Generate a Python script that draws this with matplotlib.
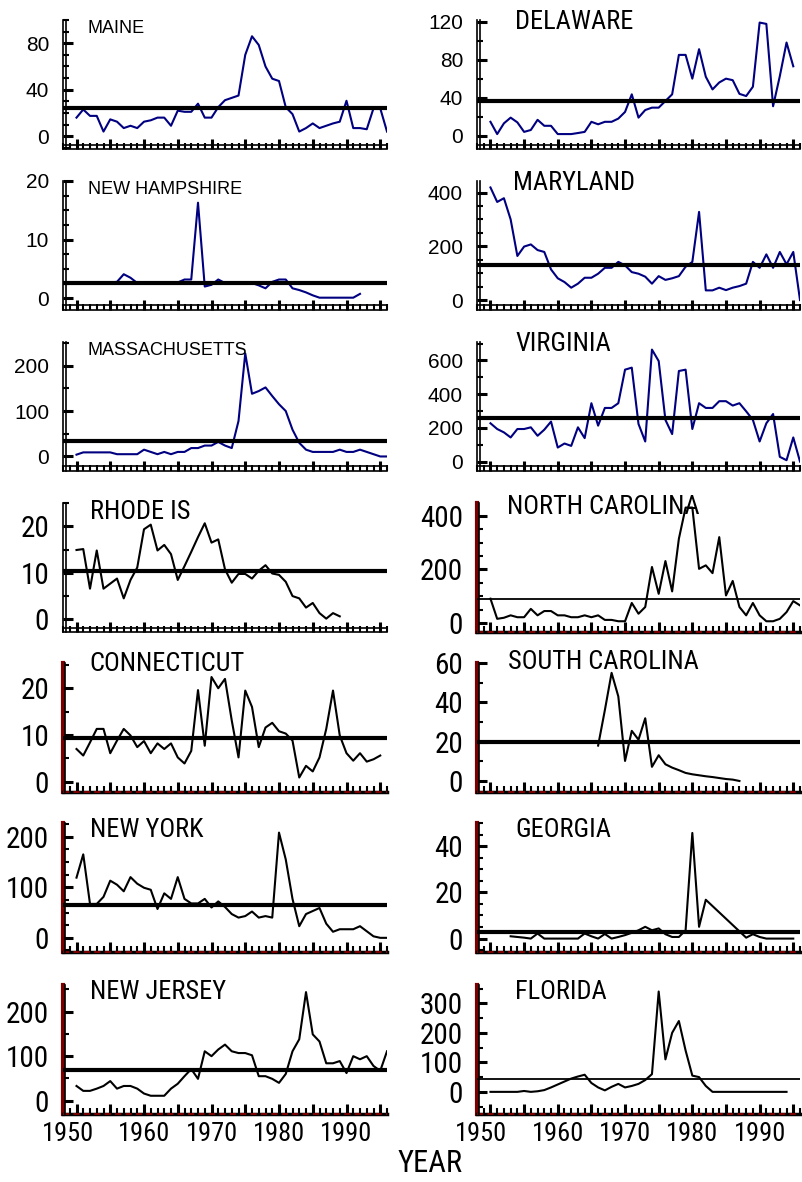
import matplotlib.pyplot as plt
from matplotlib import font_manager
from matplotlib.ticker import MultipleLocator, FuncFormatter
from matplotlib.transforms import offset_copy, ScaledTranslation

# ---- data ----
maine_years = list(range(1950, 1997))
maine = [16, 23, 17.5, 17.5, 4, 14.5, 12.5, 7, 9, 7, 12.5, 13.7, 16, 16, 9, 22, 21, 21, 28, 16,
         16, 25, 31, 33, 35, 70, 86, 78.5, 60, 49.5, 47.5, 25, 19, 4, 7, 11, 7, 9, 11, 12.5,
         30.5, 7, 7, 6, 24, 24, 4]

nh_years = list(range(1950, 1993))
nh = [2.7, 2.7, 2.7, 2.6, 2.7, 2.7, 2.8, 4.1, 3.5, 2.6, 2.6, 2.7, 2.6, 2.6, 2.6,
      2.7, 3.2, 3.2, 16.3, 2.0, 2.3, 3.2, 2.6, 2.6, 2.7, 2.6, 2.6,
      2.2, 1.7, 2.8, 3.2, 3.2, 1.7, 1.4, 1.0, 0.5, 0.1, 0.1, 0.1, 0.1, 0.1, 0.1, 0.75]

mass_years = list(range(1950, 1997))
mass = [4, 9, 9, 9, 9, 9, 5, 5, 5, 5, 15, 10, 5, 10, 5, 10, 10, 18.5, 18.5, 24,
        24, 32, 24, 18.5, 78, 227, 138, 144, 152, 133, 115, 100, 59, 30, 15,
        10, 10, 10, 10, 15, 10, 10, 15, 10, 5, 0, 0]

ri_years = list(range(1950, 1990))
ri = [14.9, 15.1, 6.5, 14.8, 6.5, 7.6, 8.7, 4.4, 8.4, 11.1,
      19.4, 20.4, 14.8, 16, 14, 8.4, 11.4, 14.5, 17.7, 20.7,
      16.5, 17.2, 10.7, 7.8, 9.7, 9.7, 8.7, 10.4, 11.6, 9.8,
      9.5, 8, 4.9, 4.4, 2.4, 3.4, 1.2, 0, 1.2, 0.5]

ct_years = list(range(1950, 1996))
ct = [7, 5.6, 8.4, 11.3, 11.3, 6.1, 8.8, 11.3, 9.9, 7.4,
      8.7, 6.1, 8.2, 7, 8.2, 5.2, 3.9, 6.6, 19.6, 7.7,
      22.4, 20, 22, 13.1, 5.2, 19.5, 16, 7.4, 11.6, 12.6,
      10.8, 10.3, 8.8, 0.9, 3.4, 2.2, 5.2, 11.3, 19.5, 9.9,
      6.1, 4.5, 6.1, 4.3, 4.8, 5.6]

ny_years = list(range(1950, 1997))
ny = [119, 165, 67, 67, 81, 113, 105, 92, 120, 107,
      99, 95, 57, 88, 77, 120, 77, 68, 68, 77,
      60, 72, 61, 47, 40, 43, 52, 40, 43, 40,
      208, 155, 77, 23, 47, 53, 59, 28, 12, 17,
      17, 17, 23, 13, 3, 0, 0]

nj_years = list(range(1950, 1997))
nj = [33, 22, 22, 27, 33, 44, 27, 33, 33, 27,
      16, 11, 11, 11, 27, 38, 55, 71, 49, 111,
      100, 115, 126, 111, 107, 107, 102, 55, 55, 49,
      40, 60, 111, 138, 244, 149, 133, 84, 84, 89,
      62, 100, 93, 100, 78, 67, 111]

de_years = list(range(1950, 1996))
de = [14.6, 1.7, 13, 19, 14, 4, 6, 16.7, 10.4, 10.4,
      1.7, 1.7, 1.7, 2.8, 4, 14.6, 12, 14.6, 14.6, 18,
      25, 43.5, 19, 27, 29.5, 29.5, 36.5, 43.5, 85, 85,
      60, 91, 62, 48.7, 56, 60, 58.4, 44, 41.7, 51.5,
      119, 117.6, 31, 62.6, 98, 73]

md_years = list(range(1950, 1997))
md = [419, 365, 379, 300, 164, 199, 207, 186, 179, 114,
      81, 67, 46, 61, 83, 83, 98, 120, 120, 142,
      129, 104, 98, 87, 61, 89, 75, 81, 89, 124,
      142, 328, 36, 36, 46, 37, 46, 52, 61, 142,
      120, 170, 120, 179, 133, 179, 0]

va_years = list(range(1950, 1997))
va = [227, 193, 173, 143, 193, 193, 203, 153, 189, 237,
      83, 107, 93, 203, 139, 346, 213, 318, 318, 346,
      545, 557, 223, 119, 664, 596, 247, 163, 537, 545,
      193, 346, 318, 318, 358, 358, 332, 346, 298, 247,
      119, 227, 282, 28, 8, 143, 0]

nc_years = list(range(1950, 1997))
nc = [91, 16, 20, 29, 22, 22, 53, 29, 45, 45,
      29, 29, 22, 22, 29, 22, 29, 12, 12, 7,
      7, 75, 35, 60, 209, 109, 231, 118, 314, 430,
      430, 202, 215, 186, 320, 103, 157, 60, 29, 75,
      29, 7, 7, 16, 41, 82, 66]

sc_years = list(range(1966, 1988))
sc = [18, 36, 55, 43, 10.2, 25.5, 21, 31.9, 7.2, 13.1, 8.5,
      6.8, 5.5, 4.1, 3.4, 2.9, 2.4, 2.0, 1.5, 1.0, 0.7, 0]

ga_years = list(range(1953, 1983)) + list(range(1988, 1996))
ga = [1, 0.7, 0.4, 0, 2.2, 0, 0, 0, 0, 0, 0, 2.2, 1.0, 0, 2, 0, 0.7, 1.5, 2.5, 3.6,
      5.1, 3.6, 4.4, 1.9, 0.7, 0.7, 3.6, 45.7, 5.1, 16.8,
      0.4, 1.9, 0.7, 0, 0, 0, 0, 0]

fl_years = list(range(1950, 1995))
fl = [0, 0, 0, 0, 0, 3, 0, 2, 6, 15, 25, 35, 45, 52, 58,
      30, 15, 5, 17, 27, 15, 20, 27, 40, 60, 340, 110, 200, 240, 140,
      55, 50, 20, 0, 0, 0, 0, 0, 0, 0, 0, 0, 0, 0, 0]

# state name, years, values, mean line, y limits, labelled y ticks, minor step
left_col = [
    ("MAINE", maine_years, maine, 24, (-11, 100), [0, 40, 80], 10),
    ("NEW HAMPSHIRE", nh_years, nh, 2.6, (-2, 20), [0, 10, 20], 2.5),
    ("MASSACHUSETTS", mass_years, mass, 35, (-32, 252), [0, 100, 200], 50),
    ("RHODE IS", ri_years, ri, 10.3, (-2.9, 25.1), [0, 10, 20], 5),
    ("CONNECTICUT", ct_years, ct, 9.3, (-2.2, 25.4), [0, 10, 20], 5),
    ("NEW YORK", ny_years, ny, 65, (-28, 227), [0, 100, 200], 25),
    ("NEW JERSEY", nj_years, nj, 70, (-30, 260), [0, 100, 200], 50),
]
right_col = [
    ("DELAWARE", de_years, de, 37, (-14, 121.7), [0, 40, 80, 120], 20),
    ("MARYLAND", md_years, md, 129, (-37, 443), [0, 200, 400], 50),
    ("VIRGINIA", va_years, va, 258, (-56, 709), [0, 200, 400, 600], 100),
    ("NORTH CAROLINA", nc_years, nc, 91, (-33, 447), [0, 200, 400], 50),
    ("SOUTH CAROLINA", sc_years, sc, 20, (-5.6, 60), [0, 20, 40, 60], 10),
    ("GEORGIA", ga_years, ga, 3, (-5.8, 50), [0, 20, 40], 5),
    ("FLORIDA", fl_years, fl, 43, (-75, 362), [0, 100, 200, 300], 50),
]

# title placement in pixels: (offset from axes left, height of top above axes top)
title_pos = [
    [(25, 0), (25, 0), (25, 0), (27, 3), (26, 11), (27, 5), (27, 5)],
    [(38, 10), (36, 10), (38, 10), (30, 8), (31, 13), (38, 5), (38, 5)],
]

plt.rcParams['font.family'] = ['Liberation Sans', 'DejaVu Sans']
names = {f.name for f in font_manager.fontManager.ttflist}
NARROW = next((n for n in ['Liberation Sans Narrow', 'Roboto Condensed', 'Open Sans Condensed']
               if n in names), 'Liberation Sans')
shrink = 1.0 if NARROW != 'Liberation Sans' else 0.82

W, H = 803, 1182
fig = plt.figure(figsize=(W / 100, H / 100), dpi=100)

row_top = [20, 181, 342, 503, 663, 823, 985]
row_h = 129
col_left = [63, 477]
col_w = [324, 323]

bottom_axes = []
for c, col in enumerate([left_col, right_col]):
    for r, (name, yrs, vals, mean, ylim, yt, ystep) in enumerate(col):
        ax = fig.add_axes([col_left[c] / W, 1 - (row_top[r] + row_h) / H,
                           col_w[c] / W, row_h / H])
        upper = r < 3
        red = r >= 3 and not (c == 0 and r == 3)
        thin_mean = name in ("NORTH CAROLINA", "FLORIDA")

        ax.plot(yrs, vals, color='#000080' if upper else 'black', lw=1.5, zorder=3)
        ax.axhline(mean, color='black', lw=1.3 if thin_mean else 3.0, zorder=4)

        ax.set_xlim(1948, 1996)
        ax.set_ylim(*ylim)
        ax.set_yticks(yt)
        ax.yaxis.set_minor_locator(MultipleLocator(ystep))
        ax.xaxis.set_major_locator(MultipleLocator(5))
        ax.xaxis.set_minor_locator(MultipleLocator(1))

        for s in ['top', 'right']:
            ax.spines[s].set_visible(False)

        ax.tick_params(axis='both', which='major', direction='in', length=7, width=2.2, color='black')
        ax.tick_params(axis='both', which='minor', direction='in', length=4, width=1.5, color='black')
        ax.tick_params(axis='y', which='major', pad=10)

        if upper:
            ylab_font = dict(family='Liberation Sans', size=15)
        else:
            ylab_font = dict(family=NARROW, size=21 * shrink)
        for lab in ax.get_yticklabels():
            lab.set_fontproperties(font_manager.FontProperties(**ylab_font))

        if r == 6:
            ax.xaxis.set_major_formatter(FuncFormatter(
                lambda v, p: f"{int(v)}" if int(round(v)) % 10 == 0 else ""))
            ax.tick_params(axis='x', which='major', pad=6)
            for lab in ax.get_xticklabels():
                lab.set_fontproperties(font_manager.FontProperties(family=NARROW, size=19 * shrink))
            bottom_axes.append(ax)
        else:
            ax.tick_params(axis='x', labelbottom=False)

        # axis lines: double black lines, or maroon/black in the lower panels
        if red:
            ax.spines['left'].set_color('#7a0000')
            ax.spines['left'].set_linewidth(3)
            ax.spines['bottom'].set_color('black')
            ax.spines['bottom'].set_linewidth(2.5)
            ax.plot([0, 1], [0, 0], transform=ax.transAxes, color='#7a0000', lw=1.5,
                    ls=(0, (3, 2)), clip_on=False, zorder=5)
            ax.plot([0, 0], [0, 1], transform=offset_copy(ax.transAxes, fig, x=2.5, units='dots'),
                    color='black', lw=1.2, clip_on=False, zorder=5)
        else:
            ax.spines['left'].set_linewidth(1.2)
            ax.spines['bottom'].set_linewidth(1.2)
            ax.plot([0, 0], [0, 1], transform=offset_copy(ax.transAxes, fig, x=3.5, units='dots'),
                    color='black', lw=1.2, clip_on=False, zorder=5)
            ax.plot([0, 1], [0, 0], transform=offset_copy(ax.transAxes, fig, y=4.5, units='dots'),
                    color='black', lw=1.2, clip_on=False, zorder=5)

        # panel titles
        dx, dy = title_pos[c][r]
        if c == 0 and upper:
            ax.text(dx / col_w[c], 1.0, name, transform=ax.transAxes, ha='left', va='top',
                    family='Liberation Sans', fontsize=13)
        else:
            ax.text(dx / col_w[c], 1 + dy / row_h, name, transform=ax.transAxes, ha='left',
                    va='top', family=NARROW, fontsize=19 * shrink, clip_on=False)

fig.text(430 / W, 19 / H, "YEAR", ha='center', va='center', family=NARROW, fontsize=22 * shrink)

# the first year label sits a little to the left of its tick in the reference
fig.canvas.draw()
for ax in bottom_axes:
    for lab in ax.get_xticklabels():
        if lab.get_text() == "1950":
            lab.set_transform(lab.get_transform() + ScaledTranslation(-9 / 100, 0, fig.dpi_scale_trans))

fig.savefig("out.png", dpi=100)
